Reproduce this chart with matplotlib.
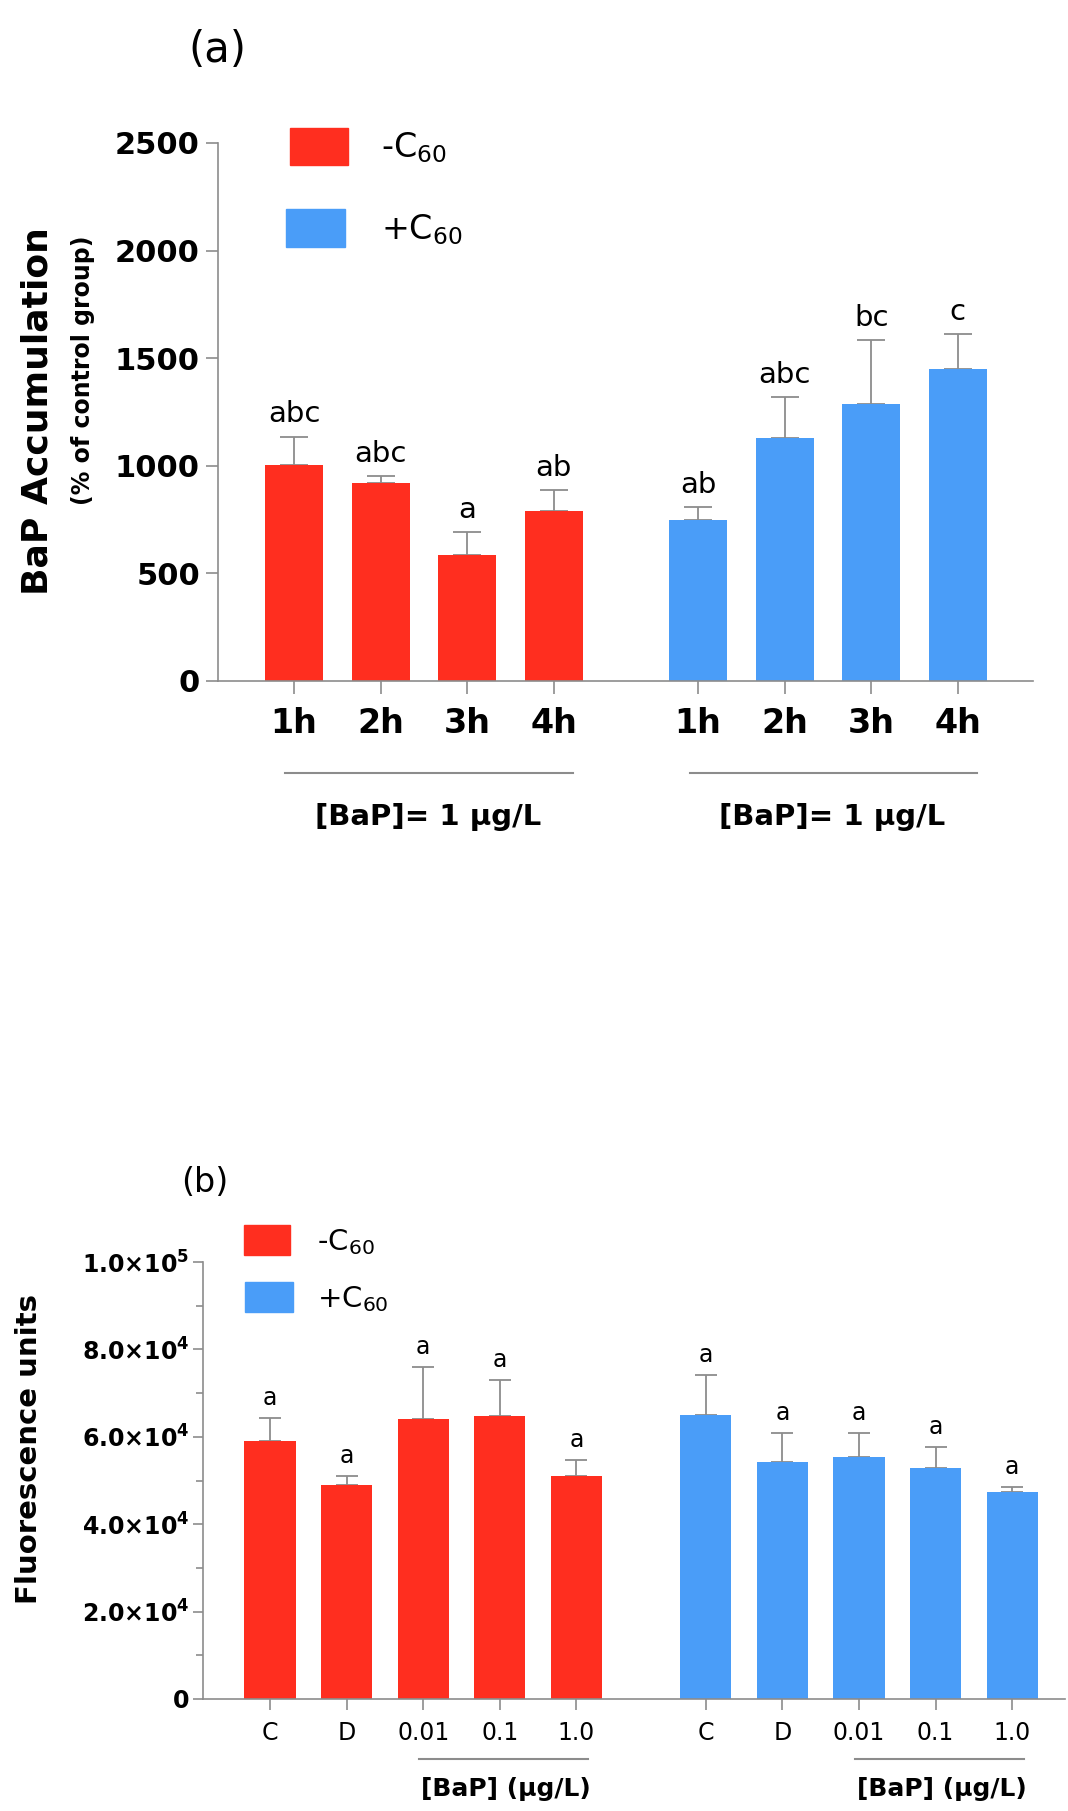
import numpy as np
import matplotlib
matplotlib.use("Agg")
import matplotlib.pyplot as plt
from matplotlib.patches import Rectangle
from matplotlib.ticker import MultipleLocator, FuncFormatter
import matplotlib.transforms as mtransforms

plt.rcParams['font.family'] = ['DejaVu Sans']
plt.rcParams['mathtext.fontset'] = 'dejavusans'

RED = '#FF2E1F'
BLUE = '#4A9DF8'
GREY = '#8c8c8c'

# panel (a) - BaP accumulation, % of control group
hours = ['1h', '2h', '3h', '4h']
acc_minus = [1005, 920, 585, 790]
acc_minus_sd = [130, 33, 107, 98]
acc_minus_letters = ['abc', 'abc', 'a', 'ab']
acc_plus = [748, 1129, 1287, 1450]
acc_plus_sd = [60, 191, 298, 162]
acc_plus_letters = ['ab', 'abc', 'bc', 'c']
group_label_a = '[BaP]= 1 \u00b5g/L'

# panel (b) - fluorescence units
doses = ['C', 'D', '0.01', '0.1', '1.0']
fl_minus = [59000, 48900, 64000, 64750, 51000]
fl_minus_sd = [5200, 2100, 11900, 8150, 3600]
fl_plus = [65070, 54170, 55300, 52800, 47300]
fl_plus_sd = [9000, 6630, 5500, 4800, 1160]
fl_letters = ['a'] * 5
group_label_b = '[BaP] (\u00b5g/L)'

W, H = 1068, 1811
fig = plt.figure(figsize=(W / 100, H / 100), dpi=100)


def fx(px):
    return px / W


def fy(py):
    return 1 - py / H


def style_axes(ax):
    for s in ['top', 'right']:
        ax.spines[s].set_visible(False)
    for s in ['left', 'bottom']:
        ax.spines[s].set_color(GREY)
        ax.spines[s].set_linewidth(1.2)
    ax.tick_params(colors=GREY, labelcolor='black', width=1.2)


def draw_group(ax, xs, vals, sd, color, letters, lsize, barw, cap):
    ax.bar(xs, vals, width=barw, color=color, zorder=2, linewidth=0)
    ax.errorbar(xs, vals, yerr=[np.zeros(len(vals)), sd], fmt='none', ecolor=GREY,
                elinewidth=1.3, capsize=cap, capthick=1.3, zorder=1)
    for x, v, e, t in zip(xs, vals, sd, letters):
        ax.annotate(t, (x, v + e), xytext=(0, 6), textcoords='offset points',
                    ha='center', va='bottom', fontsize=lsize)


# ---------- panel (a) ----------
ax1 = fig.add_axes([fx(218), fy(681), fx(1033) - fx(218), fy(143) - fy(681)])
style_axes(ax1)
xa1 = np.arange(len(hours))
xa2 = xa1 + len(hours) + 0.67
draw_group(ax1, xa1, acc_minus, acc_minus_sd, RED, acc_minus_letters, 21, 0.67, 10)
draw_group(ax1, xa2, acc_plus, acc_plus_sd, BLUE, acc_plus_letters, 21, 0.67, 10)
ax1.set_ylim(0, 2500)
ax1.set_xlim(-0.88, xa2[-1] + 0.87)
ax1.set_xticks(np.concatenate([xa1, xa2]))
ax1.set_xticklabels(hours + hours, fontsize=24, fontweight='bold')
ax1.set_yticks([0, 500, 1000, 1500, 2000, 2500])
ax1.set_yticklabels(['0', '500', '1000', '1500', '2000', '2500'], fontsize=22, fontweight='bold')
ax1.tick_params(axis='x', length=9, pad=10)
ax1.tick_params(axis='y', length=9, pad=4)

trans1 = mtransforms.blended_transform_factory(ax1.transData, ax1.transAxes)
for xs in (xa1, xa2):
    ax1.plot([xs[0] - 0.1, xs[-1] + 0.22], [-0.171, -0.171], color=GREY, lw=1.5,
             transform=trans1, clip_on=False)
    ax1.text((xs[0] + xs[-1]) / 2 + 0.05, -0.253, group_label_a, transform=trans1, ha='center',
             va='center', fontsize=21, fontweight='bold')

ax1.text(-0.222, 0.502, 'BaP Accumulation', transform=ax1.transAxes, rotation=90,
         ha='center', va='center', fontsize=26, fontweight='bold')
ax1.text(-0.166, 0.578, '(% of control group)', transform=ax1.transAxes, rotation=90,
         ha='center', va='center', fontsize=17, fontweight='bold')
fig.text(fx(217), fy(50), '(a)', ha='center', va='center', fontsize=30)

# legend (a)
fig.add_artist(Rectangle((fx(290), fy(165)), fx(58), 37 / H, transform=fig.transFigure,
                         color=RED))
fig.add_artist(Rectangle((fx(286), fy(247)), fx(59), 38 / H, transform=fig.transFigure,
                         color=BLUE))
fig.text(fx(381), fy(148), '-C$_{60}$', ha='left', va='center', fontsize=24)
fig.text(fx(381), fy(230), '+C$_{60}$', ha='left', va='center', fontsize=24)

# ---------- panel (b) ----------
ax2 = fig.add_axes([fx(203), fy(1699), fx(1065) - fx(203), fy(1262) - fy(1699)])
style_axes(ax2)
xb1 = np.arange(len(doses))
xb2 = xb1 + len(doses) + 0.69
draw_group(ax2, xb1, fl_minus, fl_minus_sd, RED, fl_letters, 17, 0.67, 8)
draw_group(ax2, xb2, fl_plus, fl_plus_sd, BLUE, fl_letters, 17, 0.67, 8)
ax2.set_ylim(0, 100000)
ax2.set_xlim(-0.876, xb2[-1] + 0.69)
ax2.set_yticks([0, 20000, 40000, 60000, 80000, 100000])
ax2.yaxis.set_minor_locator(MultipleLocator(10000))


def sci_fmt(v, pos):
    if v <= 0:
        return r'$\mathbf{0}$'
    e = int(np.floor(np.log10(v)))
    return r'$\mathbf{%.1f{\times}10^{%d}}$' % (v / 10 ** e, e)


ax2.yaxis.set_major_formatter(FuncFormatter(sci_fmt))
ax2.set_xticks(np.concatenate([xb1, xb2]))
ax2.set_xticklabels(doses + doses, fontsize=17)
ax2.tick_params(axis='y', labelsize=17, length=7, pad=3)
ax2.tick_params(axis='y', which='minor', length=5, width=1.2, color=GREY)
ax2.tick_params(axis='x', length=8, pad=8)

trans2 = mtransforms.blended_transform_factory(ax2.transData, ax2.transAxes)
for xs in (xb1, xb2):
    ax2.plot([xs[2] - 0.05, xs[-1] + 0.15], [-0.137, -0.137], color=GREY, lw=1.5,
             transform=trans2, clip_on=False)
    ax2.text((xs[2] + xs[-1]) / 2 + 0.08, -0.178, group_label_b, transform=trans2, ha='center',
             va='top', fontsize=18, fontweight='bold')

ax2.text(-0.202, 0.572, 'Fluorescence units', transform=ax2.transAxes, rotation=90,
         ha='center', va='center', fontsize=21, fontweight='bold')
fig.text(fx(205), fy(1183), '(b)', ha='center', va='center', fontsize=24)

# legend (b)
fig.add_artist(Rectangle((fx(244), fy(1255)), fx(46), 30 / H, transform=fig.transFigure,
                         color=RED))
fig.add_artist(Rectangle((fx(245), fy(1312)), fx(48), 30 / H, transform=fig.transFigure,
                         color=BLUE))
fig.text(fx(317), fy(1242), '-C$_{60}$', ha='left', va='center', fontsize=21)
fig.text(fx(317), fy(1299), '+C$_{60}$', ha='left', va='center', fontsize=21)

fig.savefig('out.png', dpi=100, facecolor='white')
